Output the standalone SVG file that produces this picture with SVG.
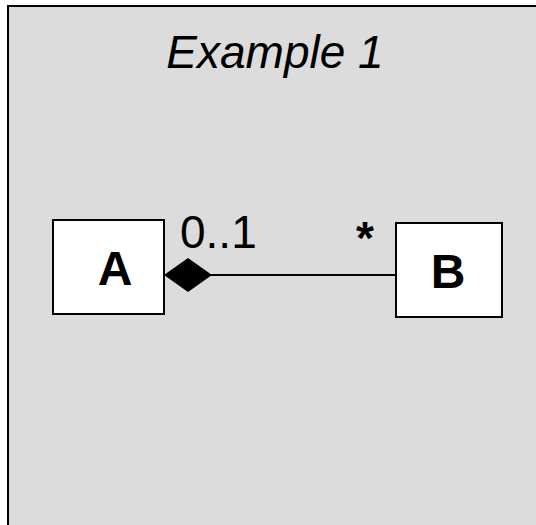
<svg xmlns="http://www.w3.org/2000/svg" width="536" height="525" viewBox="0 0 536 525">
  <style>
    .frame { fill: #dcdcdc; stroke: #000; stroke-width: 2; }
    .cls { fill: #fff; stroke: #000; stroke-width: 2; }
    .name { font-family: "Liberation Sans", Arial, sans-serif; font-weight: bold; font-size: 48px; fill: #000; text-anchor: middle; }
    .mult { font-family: "Liberation Sans", Arial, sans-serif; font-size: 46px; fill: #000; }
    .star { font-weight: bold; }
    .title { font-family: "Liberation Sans", Arial, sans-serif; font-style: italic; font-size: 46px; fill: #000; text-anchor: middle; }
    .link { stroke: #000; stroke-width: 2; fill: none; }
  </style>
  <defs>
    <marker id="composition" viewBox="0 0 48 34" refX="0" refY="17" markerWidth="48" markerHeight="34" markerUnits="userSpaceOnUse" orient="auto">
      <path d="M0,17 L24,0 L48,17 L24,34 Z" fill="#000"/>
    </marker>
  </defs>

  <!-- diagram frame -->
  <rect class="frame" x="8" y="6" width="540" height="530"/>
  <text class="title" x="275" y="68">Example 1</text>

  <!-- connectors -->
  <g id="connectors">
    <path class="link" d="M164,275 L396,275" marker-start="url(#composition)"/>
    <text class="mult" x="180" y="248">0..1</text>
    <text class="mult star" x="356" y="254">*</text>
  </g>

  <g id="node-A">
    <rect class="cls" x="53" y="220" width="111" height="94"/>
    <text class="name" x="115" y="285">A</text>
  </g>

  <g id="node-B">
    <rect class="cls" x="396" y="223" width="106" height="94"/>
    <text class="name" x="448" y="288">B</text>
  </g>
</svg>
